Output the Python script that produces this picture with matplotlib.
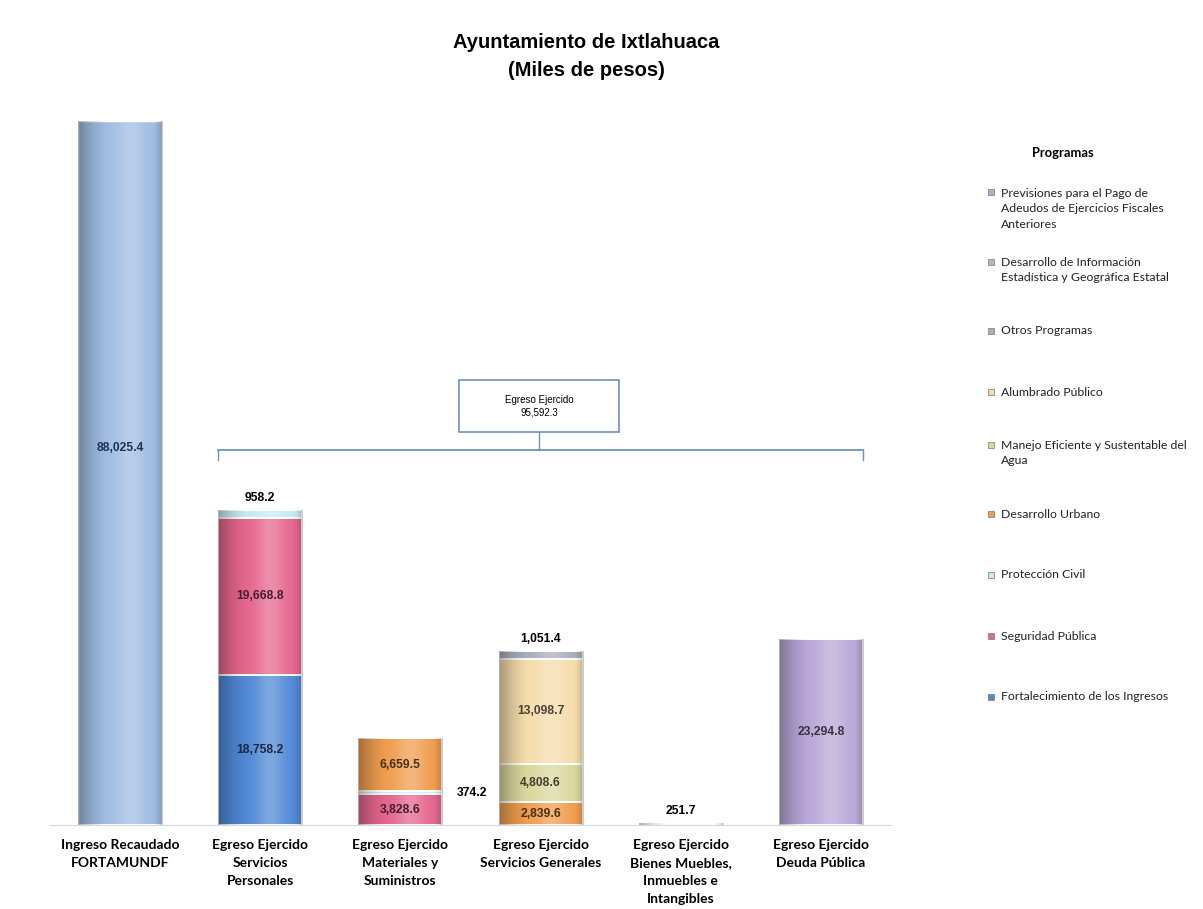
import numpy as np
import matplotlib
matplotlib.use("Agg")
import matplotlib.pyplot as plt
from matplotlib.patches import Rectangle
from matplotlib.colors import to_rgb

# ---------------- data ----------------
categories = [
    "Ingreso Recaudado\nFORTAMUNDF",
    "Egreso Ejercido\nServicios\nPersonales",
    "Egreso Ejercido\nMateriales y\nSuministros",
    "Egreso Ejercido\nServicios Generales",
    "Egreso Ejercido\nBienes Muebles,\nInmuebles e\nIntangibles",
    "Egreso Ejercido\nDeuda Pública",
]
ingreso = [88025.4, 0, 0, 0, 0, 0]
fortalecimiento = [0, 18758.2, 0, 0, 0, 0]
seguridad = [0, 19668.8, 3828.6, 0, 0, 0]
proteccion = [0, 958.2, 374.2, 0, 0, 0]
desarrollo_urbano = [0, 0, 6659.5, 2839.6, 0, 0]
agua = [0, 0, 0, 4808.6, 0, 0]
alumbrado = [0, 0, 0, 13098.7, 0, 0]
otros = [0, 0, 0, 1051.4, 0, 0]
informacion = [0, 0, 0, 0, 251.7, 0]
previsiones = [0, 0, 0, 0, 0, 23294.8]

program_names = [
    "Fortalecimiento de los Ingresos",
    "Seguridad Pública",
    "Protección Civil",
    "Desarrollo Urbano",
    "Manejo Eficiente y Sustentable del\nAgua",
    "Alumbrado Público",
    "Otros Programas",
    "Desarrollo de Información\nEstadística y Geográfica Estatal",
    "Previsiones para el Pago de\nAdeudos de Ejercicios Fiscales\nAnteriores",
]
program_values = [fortalecimiento, seguridad, proteccion, desarrollo_urbano,
                  agua, alumbrado, otros, informacion, previsiones]
program_colors = ["#5189D6", "#E5668F", "#C6EAF2", "#F09D4E", "#DAD89E",
                  "#F4DCAC", "#A9AFBA", "#B4B8C0", "#B9A7D8"]
ingreso_color = "#A0BDE2"

egreso_total = round(sum(sum(v) for v in program_values), 1)

# ---------------- figure ----------------
W, H = 1203, 909
fig = plt.figure(figsize=(W / 100, H / 100), dpi=100, facecolor="white")
ax = fig.add_axes([50 / W, 84 / H, 841 / W, 720 / H])
ax.set_xlim(-0.5, 5.5)
ax.set_ylim(0, 90000)

x = np.arange(len(categories))
bw = 0.6


def darker(c, f=0.3):
    r, g, b = to_rgb(c)
    return (r * f, g * f, b * f)


def shade(patch):
    h = patch.get_height()
    if h <= 0:
        return
    x0, y0, w = patch.get_x(), patch.get_y(), patch.get_width()
    t = np.linspace(0, 1, 128)
    s = np.zeros_like(t)
    s -= np.where(t < 0.4, 0.32 * (1 - t / 0.4) ** 1.8, 0)
    s += 0.26 * np.exp(-((t - 0.62) / 0.17) ** 2)
    s -= np.where(t > 0.85, 0.22 * ((t - 0.85) / 0.15) ** 2, 0)
    rgba = np.zeros((1, t.size, 4))
    rgba[0, :, :3] = np.where(s[:, None] > 0, 1.0, 0.0)
    rgba[0, :, 3] = np.clip(np.abs(s), 0, 1)
    im = ax.imshow(rgba, extent=[x0, x0 + w, y0, y0 + h], aspect="auto",
                   interpolation="bilinear", zorder=patch.get_zorder() + 0.1)
    im.set_clip_path(patch)


label_font = dict(family=["Liberation Sans", "DejaVu Sans"], fontweight="bold",
                  fontsize=8.7)

# ingreso column
bars = ax.bar(x, ingreso, bw, color=ingreso_color, edgecolor="white",
              linewidth=1.0, zorder=2)
for p, v in zip(bars, ingreso):
    if v > 0:
        shade(p)
        ax.text(p.get_x() + bw / 2, v * 0.535, f"{v:,.1f}", ha="center",
                va="center", color="#1F3057", zorder=5, **label_font)

# stacked programs
bottom = np.zeros(len(categories))
tops = np.array([sum(vals) for vals in zip(*program_values)])
for vals, col in zip(program_values, program_colors):
    vals = np.array(vals)
    bars = ax.bar(x, vals, bw, bottom=bottom, color=col, edgecolor="white",
                  linewidth=1.4, zorder=2)
    for i, (p, v) in enumerate(zip(bars, vals)):
        if v <= 0:
            continue
        shade(p)
        is_top = abs(bottom[i] + v - tops[i]) < 1e-6
        if v > 2000:
            ax.text(x[i], bottom[i] + v / 2, f"{v:,.1f}", ha="center",
                    va="center", color=darker(col, 0.3), zorder=5, **label_font)
        elif is_top:
            ax.text(x[i], bottom[i] + v + 700, f"{v:,.1f}", ha="center",
                    va="bottom", color="black", zorder=5, **label_font)
        else:
            ax.text(x[i] + bw / 2 + 0.1, bottom[i] + v / 2, f"{v:,.1f}",
                    ha="left", va="center", color="black", zorder=5,
                    **label_font)
    bottom += vals

ax.set_xlim(-0.5, 5.5)
ax.set_ylim(0, 90000)

# axes styling
for sp in ["top", "right", "left"]:
    ax.spines[sp].set_visible(False)
ax.spines["bottom"].set_color("#D9D9D9")
ax.set_yticks([])
ax.set_xticks(x)
ax.set_xticklabels(categories, family=["Lato", "DejaVu Sans"],
                   fontweight="bold", fontsize=10, linespacing=1.62)
ax.tick_params(axis="x", length=0, pad=10)

# bracket for total egreso
line_col = "#6F8FBF"
yb = 46900
xl, xr = 1 - bw / 2, 5 + bw / 2
ax.plot([xl, xr], [yb, yb], color=line_col, lw=1.3, zorder=3, clip_on=False)
ax.plot([xl, xl], [yb, yb - 1300], color=line_col, lw=1.0, zorder=3)
ax.plot([xr, xr], [yb, yb - 1300], color=line_col, lw=1.0, zorder=3)
ax.plot([2.99, 2.99], [yb, 49100], color=line_col, lw=1.0, zorder=3)
ax.add_patch(Rectangle((2.42, 49100), 1.14, 6500, facecolor="white",
                       edgecolor=line_col, lw=1.2, zorder=3))
ax.text(2.99, 52350, f"Egreso Ejercido\n{egreso_total:,.1f}", ha="center",
        va="center", fontsize=7, family=["Liberation Sans Narrow", "Liberation Sans"],
        linespacing=1.3, zorder=4)

# title
fig.text(586 / W, 1 - 57 / H, "Ayuntamiento de Ixtlahuaca\n(Miles de pesos)",
         ha="center", va="center", fontsize=14.5, fontweight="bold",
         family=["Liberation Sans", "DejaVu Sans"], linespacing=1.6)

# legend (manual, reversed order)
leg_font = ["Lato", "DejaVu Sans"]
fig.text(1063 / W, 1 - 153 / H, "Programas", ha="center", va="center",
         fontsize=9.3, fontweight="bold", family=leg_font)
n = len(program_names)
centers = np.linspace(209, 697, n)
line_h = 17
for k, (name, col) in enumerate(zip(program_names[::-1], program_colors[::-1])):
    c = centers[k]
    nl = name.count("\n") + 1
    first = c - (nl - 1) * line_h / 2
    fig.text(1001 / W, 1 - c / H, name, ha="left", va="center", fontsize=8.8,
             family=leg_font, color="#222222", linespacing=1.5)
    fig.patches.append(Rectangle((991 / W - 3 / W, 1 - first / H - 3 / H),
                                 6 / W, 6 / H, transform=fig.transFigure,
                                 facecolor=col, edgecolor="#777777", lw=0.5,
                                 figure=fig))

fig.savefig("out.png", dpi=100, facecolor="white")
